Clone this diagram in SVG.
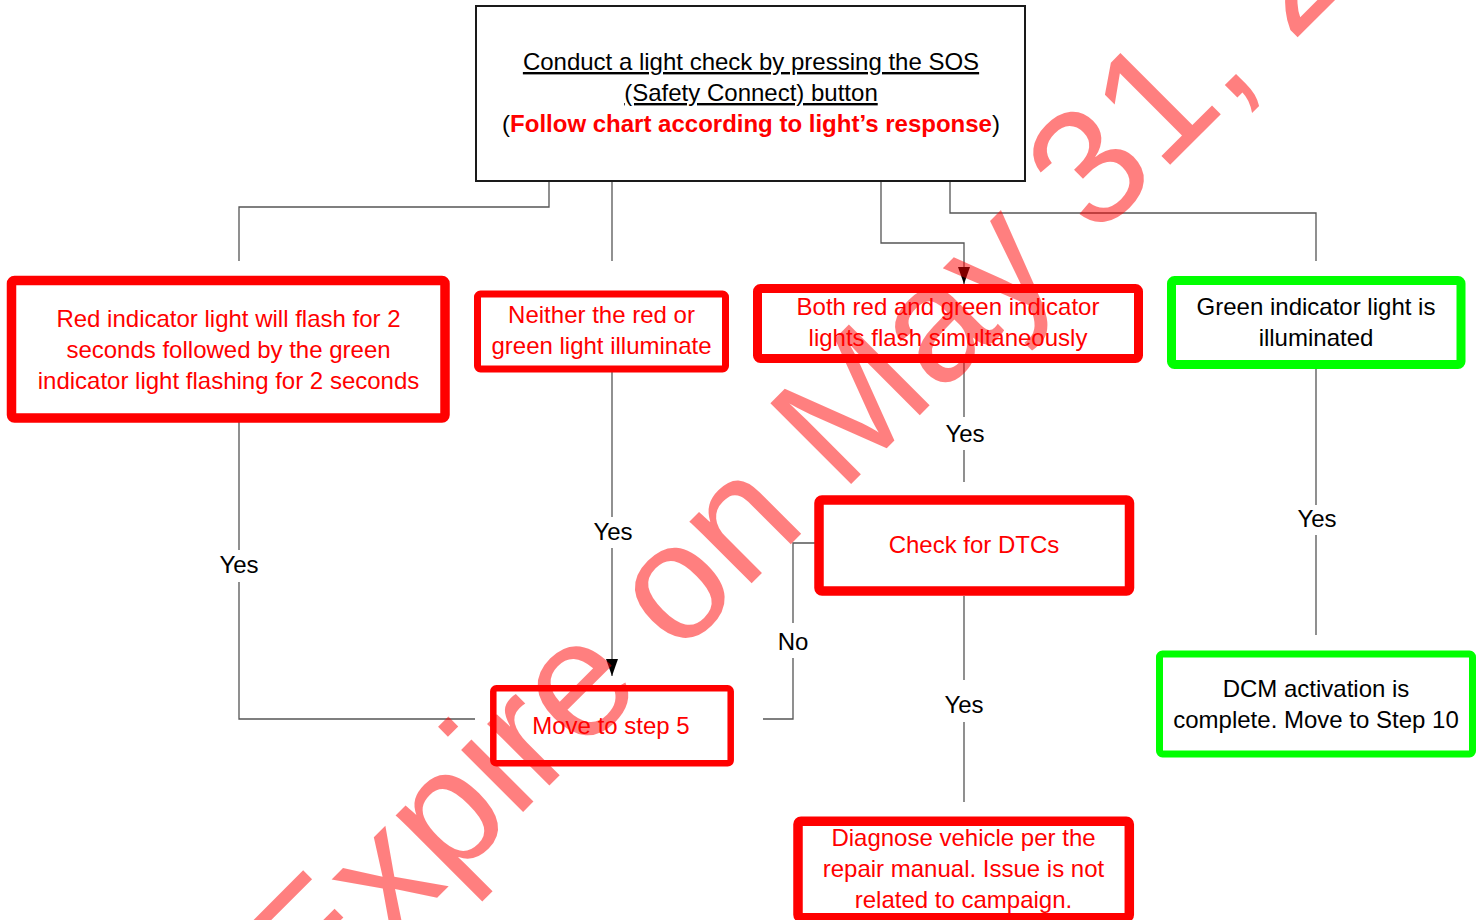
<svg xmlns="http://www.w3.org/2000/svg" width="1481" height="920" viewBox="0 0 1481 920">
<style>
text{font-family:"Liberation Sans",Arial,sans-serif;font-size:24px;text-anchor:middle}
.r{fill:#ff0000}
.k{fill:#000}
.rb{fill:#fff;stroke:#ff0000;stroke-linejoin:round}
.gb{fill:#fff;stroke:#00ff00;stroke-linejoin:round}
.cn{fill:none;stroke:#555;stroke-width:1.3}
.lbl{fill:#000}
.wm{font-size:166px;text-anchor:start;fill:#ff0000;fill-opacity:0.5}
</style>
<defs>
<marker id="ah" viewBox="0 0 17 12" refX="17" refY="6" markerWidth="17" markerHeight="12" markerUnits="userSpaceOnUse" orient="auto">
<path d="M0,0 L17,6 L0,12 z" fill="#000"/>
</marker>
</defs>
<rect width="1481" height="920" fill="#fff"/>
<g id="connectors">
<path class="cn" d="M549,181 V207 H239 V261"/>
<path class="cn" d="M612,181 V261"/>
<path class="cn" d="M881,181 V243 H964 V284" marker-end="url(#ah)"/>
<path class="cn" d="M950,181 V213 H1316 V261"/>
<path class="cn" d="M239,422 V550 M239,582 V719 H475"/>
<text class="lbl" x="239" y="573">Yes</text>
<path class="cn" d="M612,372 V517"/>
<path class="cn" d="M612,548 V676" marker-end="url(#ah)"/>
<text class="lbl" x="613" y="540">Yes</text>
<path class="cn" d="M964,363 V417 M964,450 V482"/>
<text class="lbl" x="965" y="442">Yes</text>
<path class="cn" d="M964,596 V680 M964,722 V802"/>
<text class="lbl" x="964" y="713">Yes</text>
<path class="cn" d="M819,543 H793 V623 M793,658 V719 H763"/>
<text class="lbl" x="793" y="650">No</text>
<path class="cn" d="M1316,369 V505 M1316,535 V635"/>
<text class="lbl" x="1317" y="527">Yes</text>
</g>
<g id="start">
<rect x="476" y="6" width="549" height="175" fill="#fff" stroke="#1a1a1a" stroke-width="2"/>
<text class="k" x="751" y="70" text-decoration="underline">Conduct a light check by pressing the SOS</text>
<text class="k" x="751" y="101" text-decoration="underline">(Safety Connect) button</text>
<text class="k" x="751" y="132">(<tspan fill="#ff0000" font-weight="bold">Follow chart according to light’s response</tspan>)</text>
</g>
<g id="redgreen-seq">
<rect class="rb" x="11.5" y="280.5" width="433.5" height="137.5" rx="3" stroke-width="9.5"/>
<text class="r" x="228.5" y="327">Red indicator light will flash for 2</text>
<text class="r" x="228.5" y="358">seconds followed by the green</text>
<text class="r" x="228.5" y="389">indicator light flashing for 2 seconds</text>
</g>
<g id="neither">
<rect class="rb" x="477.5" y="294" width="248" height="75" rx="3" stroke-width="7"/>
<text class="r" x="601.5" y="323">Neither the red or</text>
<text class="r" x="601.5" y="354">green light illuminate</text>
</g>
<g id="both">
<rect class="rb" x="757.5" y="288.5" width="381" height="70" rx="3" stroke-width="9"/>
<text class="r" x="948" y="315">Both red and green indicator</text>
<text class="r" x="948" y="346">lights flash simultaneously</text>
</g>
<g id="green">
<rect class="gb" x="1171.5" y="280.5" width="289.5" height="84" rx="3" stroke-width="9"/>
<text class="k" x="1316" y="315">Green indicator light is</text>
<text class="k" x="1316" y="346">illuminated</text>
</g>
<g id="dtc">
<rect class="rb" x="819" y="500" width="310.5" height="91" rx="3" stroke-width="9.5"/>
<text class="r" x="974" y="553">Check for DTCs</text>
</g>
<g id="step5">
<rect class="rb" x="493.3" y="688.3" width="237.4" height="75" rx="3" stroke-width="6.5"/>
<text class="r" x="611" y="734">Move to step 5</text>
</g>
<g id="dcm">
<rect class="gb" x="1159.5" y="654" width="313" height="100" rx="3" stroke-width="7"/>
<text class="k" x="1316" y="697">DCM activation is</text>
<text class="k" x="1316" y="728">complete. Move to Step 10</text>
</g>
<g id="diagnose">
<rect class="rb" x="798" y="821.3" width="331.3" height="96.5" rx="3" stroke-width="9.5"/>
<text class="r" x="963.5" y="846">Diagnose vehicle per the</text>
<text class="r" x="963.5" y="877">repair manual. Issue is not</text>
<text class="r" x="963.5" y="908">related to campaign.</text>
</g>
<text class="wm" x="313" y="1022" transform="rotate(-45 313 1022)">Expire on May 31, 2</text>
</svg>
